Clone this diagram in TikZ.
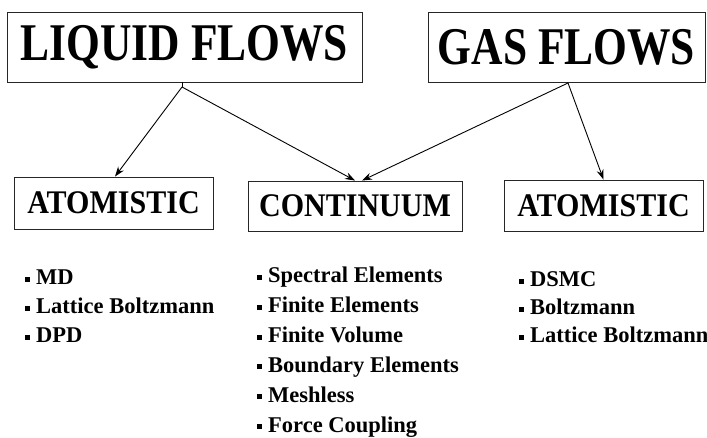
\documentclass[tikz,border=0pt]{standalone}
\usepackage{fontspec}
\setmainfont{Liberation Serif}
\usetikzlibrary{arrows.meta}
\newcommand{\topt}[1]{\scalebox{0.82}[1]{\bfseries\fontsize{53}{56}\selectfont #1}}
\newcommand{\midt}[1]{\scalebox{0.91}[1]{\bfseries\fontsize{33}{36}\selectfont #1}}
\newcommand{\bul}{\rule[3pt]{5pt}{5pt}\hspace{6pt}}
\begin{document}
\begin{tikzpicture}[x=1pt,y=-1pt,
  box/.style={draw=black!85, line width=0.9pt, inner sep=0pt},
  item/.style={anchor=base west, inner sep=0pt, font=\bfseries\fontsize{22.5}{26}\selectfont},
  link/.style={line width=0.9pt, -{Stealth[length=10pt,width=7pt]}}]
\useasboundingbox (0,0) rectangle (707,438);
% top boxes
\node[box, minimum width=355pt, minimum height=70pt] (liquid) at (184.5,47) {\topt{LIQUID FLOWS}};
\node[box, minimum width=277pt, minimum height=70pt] (gas) at (566.5,47) {\topt{GAS FLOWS}};
% middle boxes
\node[box, minimum width=199pt, minimum height=52pt] (atomL) at (113.5,203) {\midt{ATOMISTIC}};
\node[box, minimum width=214pt, minimum height=50pt] (cont) at (355,206) {\midt{CONTINUUM}};
\node[box, minimum width=199pt, minimum height=51pt] (atomR) at (603.5,205.5) {\midt{ATOMISTIC}};
% connectors
\coordinate (ls) at (182,87);
\coordinate (gs) at (568,83);
\draw[line width=0.9pt] (liquid.south -| ls) -- (ls);
\draw[link] (ls) -- (atomL.north -| 115,0);
\draw[link] (ls) -- (cont.north -| 355,0);
\draw[link] (gs) -- (cont.north -| 362,0);
\draw[link] (gs) -- (atomR.north);
% lists
\node[item] (l1) at (25,285) {\bul MD};
\node[item] (l2) at (25,314) {\bul Lattice Boltzmann};
\node[item] (l3) at (25,343) {\bul DPD};
\node[item] (c1) at (257,283) {\bul Spectral Elements};
\node[item] (c2) at (257,312.8) {\bul Finite Elements};
\node[item] (c3) at (257,342.6) {\bul Finite Volume};
\node[item] (c4) at (257,372.4) {\bul Boundary Elements};
\node[item] (c5) at (257,402.2) {\bul Meshless};
\node[item] (c6) at (257,432) {\bul Force Coupling};
\node[item] (r1) at (519,287) {\bul DSMC};
\node[item] (r2) at (519,315) {\bul Boltzmann};
\node[item] (r3) at (519,343) {\bul Lattice Boltzmann};
\end{tikzpicture}
\end{document}
